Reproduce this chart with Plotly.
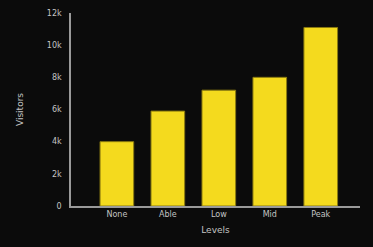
import plotly.graph_objects as go

categories = ["None", "Able", "Low", "Mid", "Peak"]
values = [4000, 5900, 7200, 8000, 11100]
tick_vals = [0, 2000, 4000, 6000, 8000, 10000, 12000]
tick_text = ["0", "2k", "4k", "6k", "8k", "10k", "12k"]

fig = go.Figure(go.Bar(
    x=categories, y=values, width=0.66,
    marker=dict(color="#F4DA1E", line=dict(color="#8a7a10", width=1)),
))

fig.update_layout(
    width=373, height=247,
    margin=dict(l=71, r=13, t=9, b=41),
    paper_bgcolor="#0b0b0b", plot_bgcolor="#0b0b0b",
    font=dict(family="DejaVu Sans", size=8, color="#c4c4c4"),
    showlegend=False,
    xaxis=dict(
        range=[-0.9, 4.77], showgrid=False, zeroline=False,
        showline=True, linecolor="#9a9a9a", linewidth=1.5, ticks="",
        title=dict(text="Levels", standoff=8, font=dict(size=9)),
    ),
    yaxis=dict(
        range=[0, 12000], tickvals=tick_vals, ticktext=tick_text,
        showgrid=False, zeroline=False,
        showline=True, linecolor="#9a9a9a", linewidth=1.5, ticks="",
        ticklabelstandoff=6,
        title=dict(text="Visitors", standoff=22, font=dict(size=9)),
    ),
)

fig.write_html(
    "out.html",
    config={"displayModeBar": False},
    post_script="document.body.style.margin='0';document.body.style.background='#0b0b0b';",
)
